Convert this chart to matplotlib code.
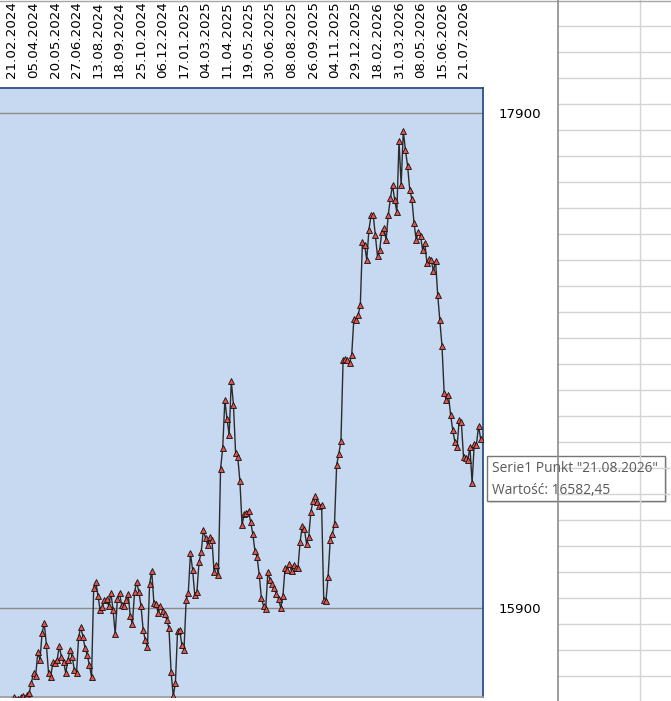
import matplotlib
matplotlib.use("Agg")
import matplotlib.pyplot as plt
from matplotlib.patches import Rectangle
from matplotlib.lines import Line2D

# ---------------- data ----------------
tick_labels = ["21.02.2024", "05.04.2024", "20.05.2024", "27.06.2024", "13.08.2024",
               "18.09.2024", "25.10.2024", "06.12.2024", "17.01.2025", "04.03.2025",
               "11.04.2025", "19.05.2025", "30.06.2025", "08.08.2025", "26.09.2025",
               "04.11.2025", "29.12.2025", "18.02.2026", "31.03.2026", "08.05.2026",
               "15.06.2026", "21.07.2026"]
first_label_index = 5
label_every = 10

values = [
    15468, 15480, 15472, 15496, 15508, 15520, 15540, 15528, 15532, 15540,
    15544, 15536, 15549, 15557, 15597, 15637, 15625, 15722, 15690, 15799,
    15839, 15751, 15637, 15621, 15682, 15678, 15690, 15746, 15702, 15682,
    15637, 15690, 15730, 15702, 15650, 15637, 15783, 15823, 15783, 15738,
    15710, 15670, 15621, 15981, 16005, 15948, 15892, 15904, 15932, 15936,
    15908, 15961, 15892, 15795, 15936, 15961, 15912, 15908, 15932, 15957,
    15868, 15835, 15965, 16005, 15965, 15908, 15811, 15771, 15742, 15997,
    16049, 15920, 15916, 15880, 15908, 15888, 15876, 15852, 15819, 15641,
    15544, 15597, 15807, 15811, 15751, 15730, 15932, 15961, 16122, 16054,
    15953, 15965, 16086, 16126, 16215, 16183, 16155, 16187, 16175, 16045,
    16074, 16033, 16462, 16546, 16740, 16664, 16599, 16817, 16720, 16526,
    16510, 16413, 16235, 16280, 16284, 16292, 16247, 16199, 16130, 16106,
    16033, 15940, 15908, 15896, 16045, 16013, 15997, 15981, 15957, 15936,
    15900, 15948, 16062, 16054, 16078, 16049, 16074, 16062, 16062, 16167,
    16231, 16219, 16159, 16187, 16288, 16332, 16352, 16328, 16312, 16316,
    15932, 15928, 16025, 16175, 16199, 16239, 16478, 16522, 16575, 16902,
    16906, 16902, 16890, 16922, 17068, 17064, 17084, 17124, 17379, 17367,
    17306, 17427, 17488, 17488, 17407, 17322, 17346, 17419, 17435, 17387,
    17488, 17556, 17609, 17548, 17500, 17787, 17609, 17827, 17750, 17686,
    17589, 17552, 17455, 17387, 17419, 17403, 17346, 17375, 17294, 17310,
    17306, 17261, 17302, 17165, 17064, 16958, 16769, 16740, 16761, 16680,
    16619, 16571, 16550, 16660, 16651, 16510, 16506, 16498, 16550, 16405,
    16563, 16559, 16635, 16582.45,
]
y_ticks = [15900, 17900]
tooltip_series = "Serie1"
tooltip_date = "21.08.2026"
tooltip_value = "16582,45"

# ---------------- figure ----------------
W, H = 671, 701
fig = plt.figure(figsize=(W / 100, H / 100), dpi=100)
fig.patch.set_facecolor("white")


def fx(x):
    return x / W


def fy(y):
    return 1 - y / H


# plot area (pixel box: x 0..483, y 88..697)
ax = fig.add_axes([fx(0), fy(697), fx(483), (697 - 88) / H])
ax.set_facecolor("#C6D9F1")

idx = list(range(len(values)))
ax.plot(idx, values, color="#2b2b2b", lw=1.0, marker="^", ms=3.8,
        mfc="#E3524B", mec="#111111", mew=0.6, zorder=3)

# scales: 2.15 px per category, first category at x=1.25 px
px_per_cat = 2.15
ax.set_xlim(-1.25 / px_per_cat, (483 - 1.25) / px_per_cat)
units_per_px = 2000 / (608 - 113)
ax.set_ylim(15900 - (697 - 608) * units_per_px, 17900 + (113 - 88) * units_per_px)

# category labels on top
ax.xaxis.tick_top()
pos = [first_label_index + k * label_every for k in range(len(tick_labels))]
ax.set_xticks(pos)
ax.set_xticklabels(tick_labels, rotation=90, fontsize=9.6, family="DejaVu Sans")
ax.tick_params(axis="x", length=0, pad=7, colors="black")

# value axis on the right
ax.yaxis.tick_right()
ax.set_yticks(y_ticks)
ax.set_yticklabels([str(v) for v in y_ticks], fontsize=9.6, family="DejaVu Sans")
ax.tick_params(axis="y", length=0, pad=11)
ax.grid(axis="y", color="#8a8a8a", lw=1.0)
ax.set_axisbelow(True)

ax.spines["left"].set_visible(False)
ax.spines["top"].set_color("#2E4F7E")
ax.spines["top"].set_linewidth(1.3)
ax.spines["right"].set_color("#2E4F7E")
ax.spines["right"].set_linewidth(1.3)
ax.spines["bottom"].set_color("#9a9a9a")
ax.spines["bottom"].set_linewidth(1.2)

# ---------------- overlay: sheet grid, chart border, tooltip ----------------
ov = fig.add_axes([0, 0, 1, 1], zorder=10)
ov.set_xlim(0, W)
ov.set_ylim(H, 0)
ov.axis("off")
ov.patch.set_alpha(0)

# spreadsheet cells right of the chart
for yy in range(26, H, 26):
    ov.add_line(Line2D([558, W], [yy, yy], color="#D4D4D4", lw=1))
ov.add_line(Line2D([639.5, 639.5], [0, H], color="#D4D4D4", lw=1))
ov.add_line(Line2D([0, W], [0.5, 0.5], color="#A6A6A6", lw=1))
# chart area border
ov.add_line(Line2D([557.5, 557.5], [0, H], color="#8C8C8C", lw=1.2))

# tooltip
ov.add_patch(Rectangle((489, 458), 178, 45, facecolor="#D0D0D0", edgecolor="none", alpha=0.6))
ov.add_patch(Rectangle((487, 456), 178, 45, facecolor="white", edgecolor="#767676", lw=1))
ov.text(492, 468, f'{tooltip_series} Punkt "{tooltip_date}"', fontsize=9.9,
        family="Open Sans", color="#595959", va="center", ha="left")
ov.text(492, 490, f"Wartość: {tooltip_value}", fontsize=9.9,
        family="Open Sans", color="#595959", va="center", ha="left")

fig.savefig("out.png", dpi=100)
